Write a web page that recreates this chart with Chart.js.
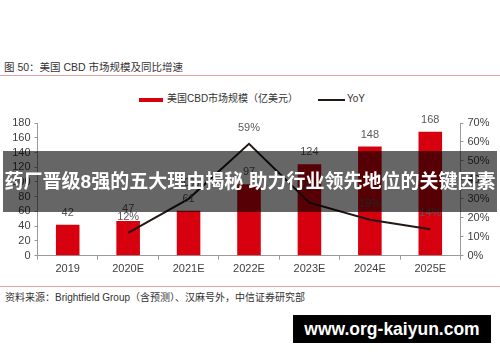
<!DOCTYPE html>
<html>
<head>
<meta charset="utf-8">
<script src="https://cdn.jsdelivr.net/npm/chart.js@4/dist/chart.umd.min.js"></script>
<style>
  html, body { margin: 0; padding: 0; background: #fff; }
  body { width: 500px; height: 362px; position: relative; overflow: hidden;
         font-family: "Liberation Sans", "Noto Sans CJK SC", sans-serif; color: #333; }
  #title { position: absolute; left: 4px; top: 60px; font-size: 10.5px; line-height: 14px; color: #333; white-space: nowrap; }
  .rule { position: absolute; left: 0; width: 500px; height: 1px; background: #e9a3a3; }
  #legend { position: absolute; top: 92px; left: 0; width: 500px; height: 14px; font-size: 10px; line-height: 14px; color: #333; }
  .lg { position: absolute; top: 0; white-space: nowrap; }
  .sw { position: absolute; }
  #source { position: absolute; left: 5px; top: 291px; font-size: 10px; line-height: 14px; color: #333; white-space: nowrap; }
  #wrap { position: absolute; left: 0; top: 100px; width: 500px; height: 185px; }
  #banner { position: absolute; left: 3px; top: 151px; width: 494px; height: 61px; background: rgba(0,0,0,0.6);
            color: #fff; font-weight: bold; font-size: 19px; line-height: 61px; text-align: center; white-space: nowrap; z-index: 5; overflow: hidden; }
  #wm { position: absolute; left: 293px; top: 315px; width: 198px; height: 28px; background: #000; color: #fff;
        font-weight: bold; font-size: 17.5px; line-height: 28px; text-align: center; white-space: nowrap; z-index: 5; }
</style>
</head>
<body>
<div id="title">图 50：美国 CBD 市场规模及同比增速</div>
<div class="rule" style="top:75px"></div>
<div id="legend">
  <div class="sw" style="left:139px; top:6px; width:24px; height:4px; background:#d7000f"></div>
  <div class="lg" style="left:167px">美国CBD市场规模（亿美元）</div>
  <div class="sw" style="left:318px; top:7px; width:27px; height:2px; background:#231815"></div>
  <div class="lg" style="left:347px">YoY</div>
</div>
<div id="wrap"><canvas id="c"></canvas></div>
<div class="rule" style="top:286px"></div>
<div id="source">资料来源：Brightfield Group（含预测）、汉麻号外，中信证券研究部</div>
<div id="banner">药厂晋级8强的五大理由揭秘 助力行业领先地位的关键因素</div>
<div id="wm">www.org-kaiyun.com</div>
<script>
const categories = ["2019", "2020E", "2021E", "2022E", "2023E", "2024E", "2025E"];
const marketSize = [42, 47, 61, 97, 124, 148, 168];
const yoy = [null, 12, 30, 59, 28, 19, 14];
const leftTicks = [0, 20, 40, 60, 80, 100, 120, 140, 160, 180];
const rightTicks = [0, 10, 20, 30, 40, 50, 60, 70];

const FONT = '"Liberation Sans", "Noto Sans CJK SC", sans-serif';
const TXT = '#404040';

const labelPlugin = {
  id: 'valLabels',
  afterDatasetsDraw(chart) {
    const ctx = chart.ctx;
    ctx.save();
    ctx.font = '11px ' + FONT;
    ctx.fillStyle = '#595959';
    ctx.textAlign = 'center';
    ctx.textBaseline = 'middle';
    chart.getDatasetMeta(0).data.forEach((el, i) => {
      ctx.fillText(String(marketSize[i]), el.x, el.y - 12);
    });
    chart.getDatasetMeta(1).data.forEach((el, i) => {
      if (yoy[i] == null) return;
      ctx.fillText(yoy[i] + '%', el.x, el.y - 16);
    });
    ctx.restore();
  }
};

new Chart(document.getElementById('c'), {
  data: {
    labels: categories,
    datasets: [
      { type: 'bar', label: '美国CBD市场规模（亿美元）', data: marketSize, backgroundColor: '#d7000f',
        yAxisID: 'y', order: 1, barPercentage: 0.39, categoryPercentage: 1 },
      { type: 'line', label: 'YoY', data: yoy, borderColor: '#231815', borderWidth: 2, tension: 0,
        pointRadius: 0, yAxisID: 'y1', order: 0, spanGaps: false }
    ]
  },
  options: {
    responsive: true, maintainAspectRatio: false, animation: false,
    layout: { padding: { top: 23, left: 0, right: 0, bottom: 0 } },
    plugins: { legend: { display: false }, tooltip: { enabled: false } },
    scales: {
      x: {
        offset: true,
        grid: { offset: true, drawOnChartArea: false, drawTicks: true, tickLength: 4, color: '#9a9a9a' },
        border: { color: '#9a9a9a' },
        ticks: { color: TXT, font: { size: 11, family: FONT }, padding: 3, maxRotation: 0, autoSkip: false },
        afterFit(s) { s.height = 29.3; }
      },
      y: {
        position: 'left', min: 0, max: 180,
        afterBuildTicks(s) { s.ticks = leftTicks.map(v => ({ value: v })); },
        grid: { drawOnChartArea: false, drawTicks: true, tickLength: 3, color: '#9a9a9a' },
        border: { color: '#9a9a9a' },
        ticks: { color: TXT, font: { size: 11, family: FONT }, padding: 4, autoSkip: false },
        afterFit(s) { s.width = 37.5; }
      },
      y1: {
        position: 'right', min: 0, max: 70,
        afterBuildTicks(s) { s.ticks = rightTicks.map(v => ({ value: v })); },
        grid: { drawOnChartArea: false, drawTicks: true, tickLength: 3, color: '#9a9a9a' },
        border: { color: '#9a9a9a' },
        ticks: { color: TXT, font: { size: 11, family: FONT }, padding: 4, autoSkip: false, callback: v => v + '%' },
        afterFit(s) { s.width = 39.5; }
      }
    }
  },
  plugins: [labelPlugin]
});
</script>
</body>
</html>
